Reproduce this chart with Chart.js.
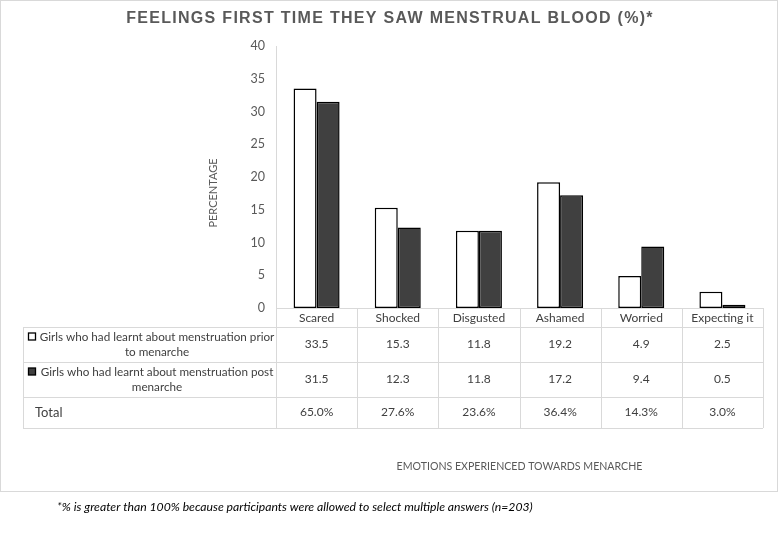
<!DOCTYPE html>
<html><head><meta charset="utf-8">
<script src="https://cdn.jsdelivr.net/npm/chart.js@4.4.1/dist/chart.umd.min.js"></script>
<style>html,body{margin:0;padding:0;background:#fff;overflow:hidden}canvas{display:block}</style>
</head><body>
<canvas id="c" width="779" height="539"></canvas>
<script>
const categories = ['Scared','Shocked','Disgusted','Ashamed','Worried','Expecting it'];
const seriesNames = [['Girls who had learnt about menstruation prior','to menarche'],['Girls who had learnt about menstruation post','menarche']];
const priorValues = [33.5,15.3,11.8,19.2,4.9,2.5];
const postValues = [31.5,12.3,11.8,17.2,9.4,0.5];
const totalLabels = ['65.0%','27.6%','23.6%','36.4%','14.3%','3.0%'];
const yTicks = [0,5,10,15,20,25,30,35,40];
const titleText = 'FEELINGS FIRST TIME THEY SAW MENSTRUAL BLOOD (%)*';
const yTitle = 'PERCENTAGE';
const xTitle = 'EMOTIONS EXPERIENCED TOWARDS MENARCHE';
const footnote = '*% is greater than 100% because participants were allowed to select multiple answers (n=203)';

const FONT = 'Lato, "Open Sans", sans-serif';
const GRID = '#d9d9d9';
const TXT = '#404040';

const deco = {
  id: 'deco',
  afterDraw(chart) {
    const ctx = chart.ctx, ca = chart.chartArea, xs = chart.scales.x;
    const n = categories.length, cw = (ca.right - ca.left) / n;
    const tLeft = 23, hTop = ca.bottom, r1 = 327, r2 = 362, r3 = 397, tBot = 428;
    ctx.save();
    // outer chart border
    ctx.strokeStyle = GRID; ctx.lineWidth = 1;
    ctx.strokeRect(0.5, 0.5, 777, 491);
    // table lines
    ctx.beginPath();
    ctx.moveTo(ca.left, hTop + 0.5); ctx.lineTo(ca.right, hTop + 0.5);
    [r1, r2, r3, tBot].forEach(y => { ctx.moveTo(tLeft, y + 0.5); ctx.lineTo(ca.right, y + 0.5); });
    ctx.moveTo(tLeft + 0.5, r1); ctx.lineTo(tLeft + 0.5, tBot);
    for (let i = 0; i <= n; i++) {
      const xx = Math.round(ca.left + i * cw) + 0.5;
      ctx.moveTo(xx, hTop); ctx.lineTo(xx, tBot);
    }
    ctx.stroke();
    // category labels and values
    ctx.fillStyle = TXT; ctx.textAlign = 'center'; ctx.textBaseline = 'middle';
    ctx.font = '12px ' + FONT;
    categories.forEach((c, i) => {
      const cx = xs.getPixelForValue(i);
      ctx.fillText(c, cx, (hTop + r1) / 2 + 1);
      ctx.fillText(priorValues[i].toFixed(1), cx, (r1 + r2) / 2);
      ctx.fillText(postValues[i].toFixed(1), cx, (r2 + r3) / 2);
      ctx.fillText(totalLabels[i], cx, (r3 + tBot) / 2);
    });
    // row headers
    const keyColors = ['#ffffff', '#404040'];
    const rowTops = [r1, r2];
    ctx.font = '11.7px ' + FONT;
    rowTops.forEach((top, k) => {
      const cy = top + 17.5;
      ctx.fillStyle = TXT; ctx.textAlign = 'center';
      ctx.fillText(seriesNames[k][0], 157, cy - 7.5);
      ctx.fillText(seriesNames[k][1], 157, cy + 7.5);
      ctx.fillStyle = keyColors[k];
      ctx.fillRect(28.5, cy - 11.5, 7, 7);
      ctx.strokeStyle = '#000'; ctx.lineWidth = 1.3;
      ctx.strokeRect(28.5, cy - 11.5, 7, 7);
    });
    ctx.fillStyle = TXT; ctx.textAlign = 'left';
    ctx.font = '13px ' + FONT;
    ctx.fillText('Total', 35, (r3 + tBot) / 2);
    // title
    ctx.fillStyle = '#595959'; ctx.textAlign = 'center';
    ctx.font = 'bold 16px "Liberation Sans", Arial, sans-serif';
    ctx.letterSpacing = '1.3px';
    ctx.fillText(titleText, 390, 19);
    ctx.letterSpacing = '0px';
    // axis titles
    ctx.font = '10.6px ' + FONT;
    ctx.fillText(xTitle, (ca.left + ca.right) / 2, 467);
    ctx.font = '11px ' + FONT;
    ctx.save();
    ctx.translate(213, 193); ctx.rotate(-Math.PI / 2);
    ctx.fillText(yTitle, 0, 0);
    ctx.restore();
    // footnote
    ctx.fillStyle = '#000'; ctx.textAlign = 'left';
    ctx.font = 'italic 12.2px ' + FONT;
    ctx.fillText(footnote, 57, 507);
    ctx.restore();
  }
};

new Chart(document.getElementById('c'), {
  type: 'bar',
  data: {
    labels: categories,
    datasets: [
      { label: seriesNames[0].join(' '), data: priorValues, backgroundColor: '#ffffff', borderColor: '#000000', borderWidth: 1.5, borderSkipped: false, categoryPercentage: 0.567, barPercentage: 1 },
      { label: seriesNames[1].join(' '), data: postValues, backgroundColor: '#404040', borderColor: '#000000', borderWidth: 1.5, borderSkipped: false, categoryPercentage: 0.567, barPercentage: 1 }
    ]
  },
  options: {
    responsive: false,
    animation: false,
    layout: { padding: { left: 0, right: 16, top: 46, bottom: 231 } },
    plugins: { legend: { display: false }, tooltip: { enabled: false }, title: { display: false } },
    scales: {
      x: { display: false },
      y: {
        min: 0, max: 40,
        afterFit(s) { s.width = 276; },
        afterBuildTicks(s) { s.ticks = yTicks.map(v => ({ value: v })); },
        grid: { display: false, drawTicks: false },
        border: { display: true, color: GRID, width: 1 },
        ticks: { color: '#595959', font: { family: FONT, size: 12.5 }, padding: 11 }
      }
    }
  },
  plugins: [deco]
});
</script>
</body></html>
